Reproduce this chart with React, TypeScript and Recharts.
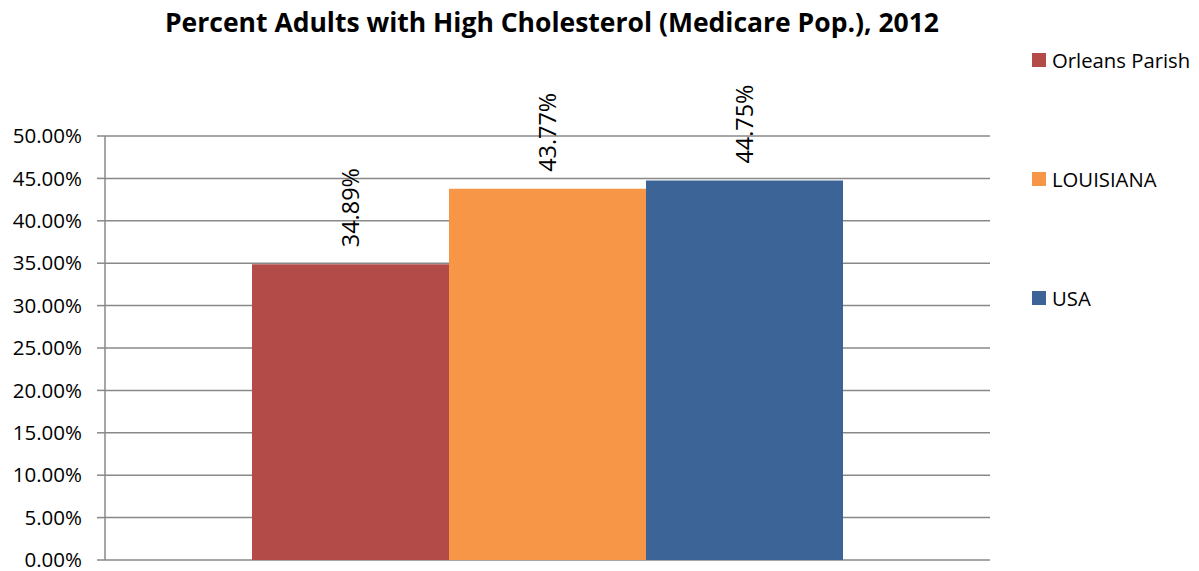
import React from 'react';
import { BarChart, Bar, XAxis, YAxis, CartesianGrid, Legend, LabelList } from 'recharts';

const title = 'Percent Adults with High Cholesterol (Medicare Pop.), 2012';
const categories = [''];
const seriesKeys = ['orleans', 'louisiana', 'usa'];
const seriesNames = ['Orleans Parish', 'LOUISIANA', 'USA'];
const orleansValues = [0.3489];
const louisianaValues = [0.4377];
const usaValues = [0.4475];
const seriesColors = ['#B34B48', '#F79646', '#3C6496'];
const yTicks = [0, 0.05, 0.1, 0.15, 0.2, 0.25, 0.3, 0.35, 0.4, 0.45, 0.5];

const seriesValues = [orleansValues, louisianaValues, usaValues];
const data = categories.map((c, ci) => {
  const row: Record<string, any> = { category: c };
  seriesKeys.forEach((k, si) => {
    row[k] = seriesValues[si][ci];
  });
  return row;
});

const FONT = '"Open Sans", sans-serif';
const pct = (v: number) => (v * 100).toFixed(2) + '%';

const renderLabel = (props: any) => {
  const { x, y, width, value } = props;
  const cx = Number(x) + Number(width) / 2;
  const cy = Number(y) - 17;
  return (
    <text
      x={cx}
      y={cy}
      transform={`rotate(-90 ${cx} ${cy})`}
      textAnchor="start"
      dominantBaseline="central"
      fontFamily={FONT}
      fontSize={23.4}
      fill="#000"
    >
      {pct(Number(value))}
    </text>
  );
};

const renderLegend = () => (
  <div style={{ width: 167, fontFamily: FONT, fontSize: 20.3, color: '#000' }}>
    {seriesNames.map((name, i) => (
      <div
        key={name}
        style={{ display: 'flex', alignItems: 'center', height: 20, marginBottom: i < seriesNames.length - 1 ? 99 : 0 }}
      >
        <span style={{ display: 'inline-block', width: 14, height: 14, background: seriesColors[i], marginRight: 6, flexShrink: 0 }} />
        <span style={{ whiteSpace: 'nowrap' }}>{name}</span>
      </div>
    ))}
  </div>
);

export default function App() {
  return (
    <div style={{ position: 'absolute', left: 0, top: 0, width: 1199, height: 571, background: '#fff' }}>
      <div
        style={{
          position: 'absolute',
          left: 0,
          top: 4,
          width: 1104,
          textAlign: 'center',
          fontFamily: FONT,
          fontWeight: 700,
          fontSize: 26.5,
          lineHeight: 'normal',
          whiteSpace: 'nowrap',
          color: '#000',
          zIndex: 2,
        }}
      >
        {title}
      </div>
      <BarChart
        width={1199}
        height={571}
        data={data}
        margin={{ top: 136, right: 209, bottom: 11, left: 0 }}
        barCategoryGap={147}
        barGap={0}
      >
        <CartesianGrid vertical={false} stroke="#888888" strokeWidth={1.5} />
        <XAxis dataKey="category" tick={false} tickLine={false} height={0} axisLine={{ stroke: '#888888', strokeWidth: 1.5 }} />
        <YAxis
          domain={[0, 0.5]}
          ticks={yTicks}
          width={105}
          tickSize={8}
          tickMargin={15}
          tickFormatter={pct}
          axisLine={{ stroke: '#888888', strokeWidth: 1.5 }}
          tickLine={{ stroke: '#888888', strokeWidth: 1.5 }}
          tick={{ fill: '#000', fontFamily: FONT, fontSize: 20.5 }}
          interval={0}
        />
        <Legend
          layout="vertical"
          align="center"
          verticalAlign="middle"
          content={renderLegend}
          wrapperStyle={{ left: 1032, top: 50, width: 167 }}
        />
        {seriesKeys.map((k, i) => (
          <Bar key={k} dataKey={k} name={seriesNames[i]} fill={seriesColors[i]} isAnimationActive={false}>
            <LabelList dataKey={k} content={renderLabel} />
          </Bar>
        ))}
      </BarChart>
    </div>
  );
}
